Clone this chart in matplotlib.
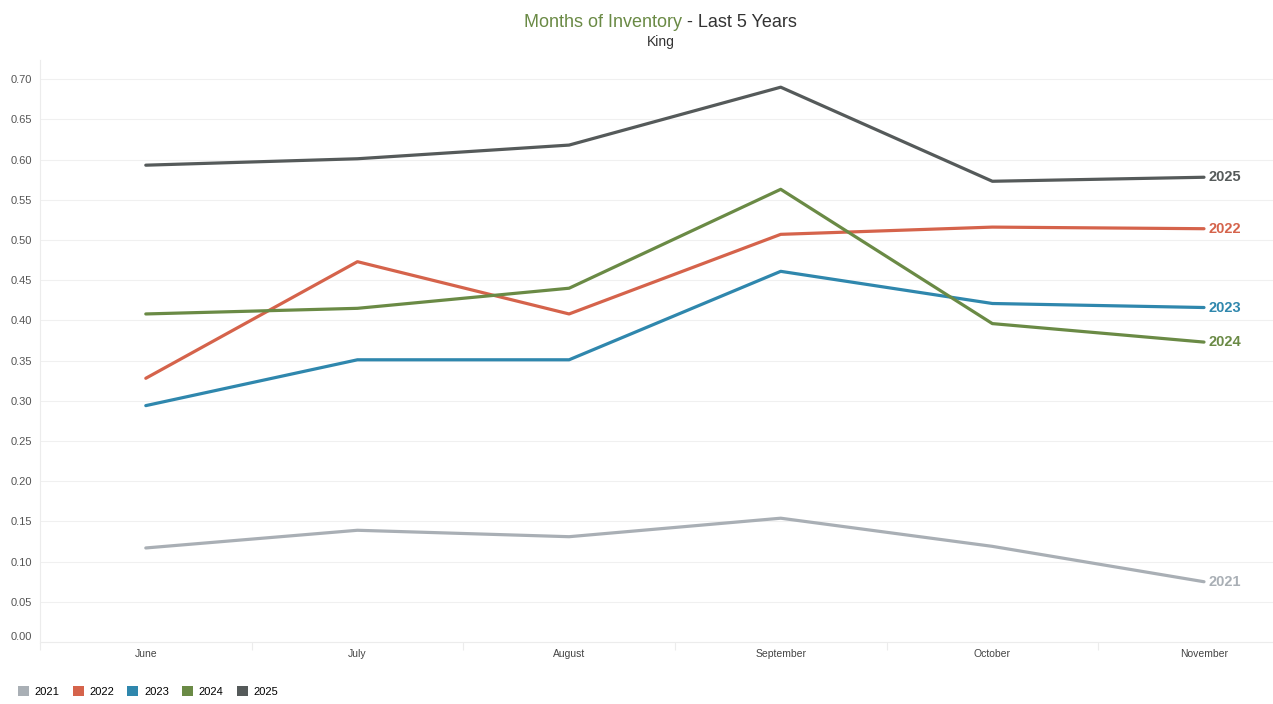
import matplotlib
matplotlib.use("Agg")
import matplotlib.pyplot as plt
from matplotlib.patches import Patch
import numpy as np

plt.rcParams['font.family'] = ['Liberation Sans', 'DejaVu Sans']

# 数据
months = ["June", "July", "August", "September", "October", "November"]
years = ["2021", "2022", "2023", "2024", "2025"]
v2021 = [0.117, 0.139, 0.131, 0.154, 0.119, 0.075]
v2022 = [0.328, 0.473, 0.408, 0.507, 0.516, 0.514]
v2023 = [0.294, 0.351, 0.351, 0.461, 0.421, 0.416]
v2024 = [0.408, 0.415, 0.440, 0.563, 0.396, 0.373]
v2025 = [0.593, 0.601, 0.618, 0.690, 0.573, 0.578]
colors = ["#a9afb5", "#d5634b", "#2f87ad", "#6a8a45", "#555a5a"]
yticks = [0.0, 0.05, 0.10, 0.15, 0.20, 0.25, 0.30, 0.35, 0.40, 0.45, 0.50, 0.55, 0.60, 0.65, 0.70]

series = [v2021, v2022, v2023, v2024, v2025]

fig = plt.figure(figsize=(12.73, 7.04), dpi=100)
ax = fig.add_axes([0.0314, 0.088, 0.9686, 0.827])

x = np.arange(len(months))
for yr, vals, c in zip(years, series, colors):
    ax.plot(x, vals, color=c, linewidth=2.3, solid_capstyle="round", zorder=3)
    ax.text(x[-1] + 0.02, vals[-1], yr, color=c, fontsize=10.5, fontweight="bold",
            va="center", ha="left", zorder=4)

ax.set_xlim(-0.5, 5.326)
ax.set_ylim(0, 0.724)
ax.set_yticks(yticks)
ax.set_yticklabels([f"{t:.2f}" for t in yticks], fontsize=8, color="#555555")
ax.set_xticks(x)
ax.set_xticklabels(months, fontsize=7.5, color="#444444")
ax.set_xticks(np.arange(-0.5, 5.5, 1), minor=True)
ax.tick_params(axis="x", which="major", length=0, pad=5)
ax.tick_params(axis="x", which="minor", length=6, color="#ececec", width=0.8)
ax.tick_params(axis="y", length=0, pad=6)
ax.get_yticklabels()[0].set_va("bottom")

ax.grid(axis="y", color="#f0f0f0", linewidth=0.8, zorder=0)
for s in ["top", "right"]:
    ax.spines[s].set_visible(False)
ax.spines["left"].set_color("#ececec")
ax.spines["bottom"].set_color("#ececec")

# 标题
fig.text(0.5355, 0.968, "Months of Inventory", color="#6a8a45", fontsize=13, ha="right", va="center")
fig.text(0.5355, 0.968, " - Last 5 Years", color="#333333", fontsize=13, ha="left", va="center")
fig.text(0.519, 0.941, "King", color="#333333", fontsize=10, ha="center", va="center")

handles = [Patch(facecolor=c, edgecolor="none", label=yr) for yr, c in zip(years, colors)]
fig.legend(handles=handles, loc="lower left", bbox_to_anchor=(0.006, -0.004), ncol=5, frameon=False,
           fontsize=8, handlelength=1.0, handleheight=1.0, handletextpad=0.5, columnspacing=1.2)

plt.savefig("out.png", dpi=100)
